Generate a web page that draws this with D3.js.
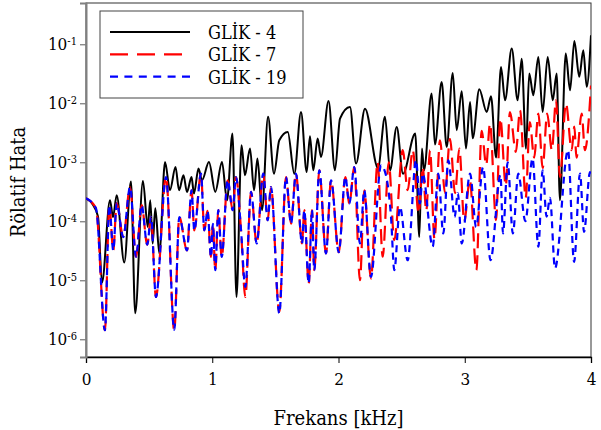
<!DOCTYPE html>
<html>
<head>
<meta charset="utf-8">
<script src="https://cdn.jsdelivr.net/npm/d3@7"></script>
<style>
  body { margin: 0; background: #fff; }
  svg text { font-family: 'DejaVu Serif Condensed', 'DejaVu Serif', serif; }
</style>
</head>
<body>
<div id="chart"></div>
<script>
// frequency [kHz], relative error (peaks and dips)
var glik4 = [
  [0, 2.45e-4], [0.048, 2.0e-4], [0.095, 1.2e-4], [0.127, 9.2e-6], [0.190, 2.27e-4],
  [0.214, 1.17e-4], [0.243, 2.76e-4], [0.303, 2.0e-5], [0.356, 4.7e-4], [0.390, 2.76e-6],
  [0.451, 4.8e-4], [0.489, 8.0e-5], [0.509, 2.27e-4], [0.528, 4.2e-5], [0.549, 1.66e-4],
  [0.581, 2.84e-5], [0.626, 1.01e-3], [0.665, 3.35e-4], [0.709, 8.3e-4], [0.737, 3.35e-4],
  [0.772, 6.0e-4], [0.800, 3.14e-4], [0.836, 5.6e-4], [0.855, 2.94e-4], [0.891, 7.8e-4],
  [0.919, 4.95e-4], [0.974, 1.01e-3], [1.024, 3.14e-4], [1.077, 1.01e-3], [1.117, 2.27e-4],
  [1.160, 3.06e-3], [1.192, 5.2e-6], [1.232, 1.94e-3], [1.259, 6.0e-4], [1.299, 1.71e-3],
  [1.331, 3.35e-4], [1.358, 1.16e-3], [1.394, 1.54e-4], [1.442, 5.9e-3], [1.489, 6.4e-4],
  [1.531, 2.36e-3], [1.598, 3.27e-3], [1.650, 6.4e-4], [1.703, 7.1e-3], [1.748, 6.85e-4],
  [1.774, 2.76e-3], [1.800, 7.3e-4], [1.835, 2.52e-3], [1.861, 1.23e-3], [1.921, 1.09e-2],
  [1.972, 7.3e-4], [2.012, 5.5e-3], [2.091, 8.65e-3], [2.139, 9.5e-4], [2.210, 8.1e-3],
  [2.313, 8.0e-4], [2.368, 5.9e-3], [2.408, 7.3e-4], [2.461, 3.96e-3], [2.511, 6.4e-4],
  [2.608, 3.06e-3], [2.640, 5.4e-5], [2.661, 1.71e-3], [2.677, 7.3e-4], [2.738, 1.46e-2],
  [2.764, 2.0e-3], [2.817, 2.3e-2], [2.857, 1.82e-3], [2.905, 3.27e-2], [2.936, 3.5e-3],
  [2.976, 1.6e-2], [3.010, 1.71e-3], [3.042, 1.05e-2], [3.063, 2.55e-3], [3.115, 1.73e-2],
  [3.174, 7.1e-3], [3.208, 1.31e-2], [3.248, 1.2e-3], [3.287, 4.1e-2], [3.319, 1.12e-2],
  [3.372, 8.5e-2], [3.419, 1.12e-2], [3.451, 5.7e-2], [3.485, 1.7e-3], [3.511, 3.2e-2],
  [3.543, 1.37e-2], [3.583, 6.1e-2], [3.617, 7.1e-3], [3.657, 6.1e-2], [3.697, 1.12e-2],
  [3.728, 3.2e-2], [3.754, 2.27e-4], [3.800, 6.95e-2], [3.834, 1.66e-2], [3.868, 1.14e-1],
  [3.907, 2.8e-2], [3.939, 7.9e-2], [3.966, 1.9e-2], [4.000, 1.42e-1]
];

var glik7 = [
  [0, 2.45e-4], [0.079, 1.66e-4], [0.150, 1.42e-6], [0.185, 1.87e-4], [0.216, 3.2e-5],
  [0.243, 2.02e-4], [0.295, 5.4e-5], [0.349, 3.8e-4], [0.396, 2.5e-5], [0.441, 1.87e-4],
  [0.485, 4.0e-5], [0.515, 1.18e-4], [0.554, 5.2e-6], [0.634, 5.6e-4], [0.699, 1.4e-6],
  [0.739, 1.18e-4], [0.800, 3.2e-5], [0.836, 3.35e-4], [0.858, 7.0e-5], [0.911, 6.4e-4],
  [0.937, 7.0e-5], [0.963, 1.5e-4], [0.990, 2.48e-5], [1.005, 9.0e-5], [1.024, 1.48e-5],
  [1.048, 1.54e-4], [1.075, 2.48e-5], [1.122, 4.95e-4], [1.162, 1.54e-4], [1.188, 5.6e-4],
  [1.228, 7.0e-5], [1.262, 5.2e-6], [1.307, 3.14e-4], [1.352, 4.2e-5], [1.404, 6.4e-4],
  [1.439, 1.04e-4], [1.465, 3.8e-4], [1.531, 2.9e-6], [1.584, 5.6e-4], [1.624, 9.1e-5],
  [1.663, 6.4e-4], [1.711, 4.2e-5], [1.729, 1.54e-4], [1.764, 8.8e-6], [1.790, 1.54e-4],
  [1.808, 1.48e-5], [1.848, 7.3e-4], [1.901, 2.84e-5], [1.941, 4.95e-4], [2.002, 2.98e-5],
  [2.054, 5.6e-4], [2.086, 2.0e-4], [2.125, 8.3e-4], [2.170, 1.0e-5], [2.204, 3.35e-4],
  [2.257, 1.07e-5], [2.310, 1.0e-3], [2.350, 2.5e-5], [2.398, 1.0e-3], [2.442, 4.8e-5],
  [2.509, 1.6e-3], [2.548, 3.35e-4], [2.588, 1.6e-3], [2.635, 1.37e-4], [2.667, 8.3e-4],
  [2.695, 1.5e-4], [2.725, 1.6e-3], [2.760, 5.0e-5], [2.804, 2.36e-3], [2.844, 3.0e-4],
  [2.883, 2.5e-3], [2.923, 3.0e-4], [2.957, 1.71e-3], [2.996, 1.0e-4], [3.040, 5.0e-4],
  [3.092, 1.48e-5], [3.134, 3.4e-3], [3.170, 9.0e-4], [3.200, 4.5e-3], [3.248, 1.04e-4],
  [3.282, 5.5e-3], [3.325, 4.0e-4], [3.358, 7.1e-3], [3.405, 1.5e-3], [3.438, 7.6e-3],
  [3.483, 2.5e-4], [3.515, 4.8e-3], [3.550, 1.2e-3], [3.583, 6.7e-3], [3.617, 8.0e-4],
  [3.653, 6.7e-3], [3.690, 1.6e-3], [3.723, 1.12e-2], [3.754, 5.6e-4], [3.802, 9.9e-3],
  [3.847, 1.6e-3], [3.868, 4.0e-3], [3.885, 1.2e-3], [3.926, 6.7e-3], [3.952, 1.6e-3],
  [4.000, 2.0e-2]
];

var glik19 = [
  [0, 2.45e-4], [0.079, 1.66e-4], [0.150, 1.42e-6], [0.185, 1.87e-4], [0.216, 3.2e-5],
  [0.243, 2.02e-4], [0.295, 5.4e-5], [0.349, 3.8e-4], [0.396, 2.5e-5], [0.441, 1.87e-4],
  [0.485, 4.0e-5], [0.515, 1.18e-4], [0.554, 5.2e-6], [0.634, 5.6e-4], [0.699, 1.45e-6],
  [0.739, 1.18e-4], [0.800, 3.2e-5], [0.836, 3.35e-4], [0.858, 7.0e-5], [0.911, 6.4e-4],
  [0.937, 7.0e-5], [0.963, 1.5e-4], [0.990, 2.48e-5], [1.005, 9.0e-5], [1.024, 1.48e-5],
  [1.048, 1.54e-4], [1.075, 2.48e-5], [1.122, 4.95e-4], [1.162, 1.54e-4], [1.188, 5.6e-4],
  [1.228, 7.0e-5], [1.262, 7.7e-6], [1.307, 3.14e-4], [1.352, 4.2e-5], [1.404, 6.4e-4],
  [1.439, 1.04e-4], [1.465, 3.8e-4], [1.531, 2.75e-6], [1.584, 5.6e-4], [1.624, 9.1e-5],
  [1.663, 6.4e-4], [1.711, 4.2e-5], [1.729, 1.54e-4], [1.764, 8.8e-6], [1.790, 1.54e-4],
  [1.808, 1.48e-5], [1.848, 7.3e-4], [1.901, 2.84e-5], [1.941, 4.95e-4], [2.002, 2.98e-5],
  [2.054, 5.6e-4], [2.086, 2.0e-4], [2.125, 8.3e-4], [2.170, 4.2e-5], [2.204, 3.35e-4],
  [2.257, 1.14e-5], [2.337, 8.9e-4], [2.376, 6.0e-4], [2.416, 1.18e-4], [2.442, 1.48e-5],
  [2.487, 1.75e-4], [2.548, 2.18e-5], [2.614, 1.08e-3], [2.645, 2.0e-4], [2.667, 6.4e-4],
  [2.746, 3.7e-5], [2.790, 6.4e-4], [2.830, 6.2e-5], [2.870, 1.08e-3], [2.920, 1.18e-4],
  [2.945, 3.0e-4], [2.976, 4.2e-5], [3.042, 6.4e-4], [3.090, 8.0e-5], [3.145, 8.3e-4],
  [3.204, 2.18e-5], [3.283, 6.1e-4], [3.303, 6.2e-5], [3.340, 1.0e-3], [3.381, 6.2e-5],
  [3.424, 6.4e-4], [3.480, 1.0e-4], [3.537, 1.16e-3], [3.583, 3.7e-5], [3.617, 7.3e-4],
  [3.648, 1.2e-4], [3.675, 2.5e-4], [3.715, 1.6e-5], [3.818, 1.6e-3], [3.866, 2.05e-5],
  [3.913, 6.4e-4], [3.945, 6.6e-5], [3.992, 6.8e-4], [4.000, 6.0e-4]
];

var xTicks = [0, 1, 2, 3, 4];
var yTicks = [1e-6, 1e-5, 1e-4, 1e-3, 1e-2, 1e-1];
var seriesNames = ["GLİK - 4", "GLİK - 7", "GLİK - 19"];

var margin = {top: 3, right: 10, bottom: 73, left: 86},
    width = 601 - margin.left - margin.right,
    height = 430 - margin.top - margin.bottom;

var svg = d3.select("#chart")
  .append("svg")
    .attr("width", 601)
    .attr("height", 430)
  .append("g")
    .attr("transform", "translate(" + margin.left + "," + margin.top + ")");

var x = d3.scaleLinear().domain([0, 4]).range([0, width]);
var y = d3.scaleLog().domain([5e-7, 0.5]).range([height, 0]);

svg.append("clipPath").attr("id", "clip")
  .append("rect").attr("width", width).attr("height", height);

// frame
svg.append("rect")
  .attr("width", width)
  .attr("height", height)
  .attr("fill", "none")
  .attr("stroke", "#333")
  .attr("stroke-width", 1);

// x axis
var xAxis = svg.append("g")
  .attr("transform", "translate(0," + height + ")")
  .call(d3.axisBottom(x).tickValues(xTicks).tickSize(6).tickPadding(10).tickFormat(d3.format("d")));
xAxis.select(".domain").attr("stroke", "#000").attr("stroke-width", 1.3);
xAxis.selectAll("text").attr("font-size", "17px").attr("fill", "#000");

// y axis with 10^n labels
var yAxis = svg.append("g")
  .call(d3.axisLeft(y).tickValues(yTicks).tickSize(6).tickPadding(3).tickFormat(function() { return "10"; }));
yAxis.select(".domain").attr("stroke", "#808080").attr("stroke-width", 2);
yAxis.selectAll(".tick line").attr("stroke", "#808080").attr("stroke-width", 1.3);
yAxis.selectAll(".tick text")
  .attr("font-size", "17px")
  .attr("fill", "#000")
  .append("tspan")
    .attr("dy", "-0.5em")
    .attr("font-size", "11px")
    .text(function(d) { return Math.round(Math.log10(d)); });

// axis titles
svg.append("text")
  .attr("x", width / 2)
  .attr("y", height + 68)
  .attr("font-size", "20px")
  .attr("text-anchor", "middle")
  .text("Frekans [kHz]");

svg.append("text")
  .attr("x", -(height / 2) - 2)
  .attr("y", -61)
  .attr("font-size", "20px")
  .attr("text-anchor", "middle")
  .attr("transform", "rotate(-90)")
  .text("Rölatif Hata");

var line = d3.line()
  .x(function(d) { return x(d[0]); })
  .y(function(d) { return y(d[1]); })
  .curve(d3.curveMonotoneX);

var styles = [
  {data: glik4, color: "#000000", dash: null, w: 2},
  {data: glik7, color: "#ff0000", dash: "15,7", w: 2.2},
  {data: glik19, color: "#0000ff", dash: "7,5", w: 2.2}
];

var plot = svg.append("g").attr("clip-path", "url(#clip)");
styles.forEach(function(s) {
  plot.append("path")
    .datum(s.data)
    .attr("fill", "none")
    .attr("stroke", s.color)
    .attr("stroke-width", s.w)
    .attr("stroke-dasharray", s.dash)
    .attr("d", line);
});

// legend
var legend = svg.append("g").attr("transform", "translate(14,8)");
legend.append("rect")
  .attr("width", 203)
  .attr("height", 87)
  .attr("fill", "#fff")
  .attr("stroke", "#444")
  .attr("stroke-width", 1);

styles.forEach(function(s, i) {
  var ly = 21 + i * 22.3;
  legend.append("line")
    .attr("x1", 10).attr("x2", 90)
    .attr("y1", ly).attr("y2", ly)
    .attr("stroke", s.color)
    .attr("stroke-width", s.w)
    .attr("stroke-dasharray", s.dash ? (i == 1 ? "18,9" : "8,6.4") : null);
  legend.append("text")
    .attr("x", 108)
    .attr("y", ly + 7)
    .attr("font-size", "18px")
    .text(seriesNames[i]);
});
</script>
</body>
</html>
